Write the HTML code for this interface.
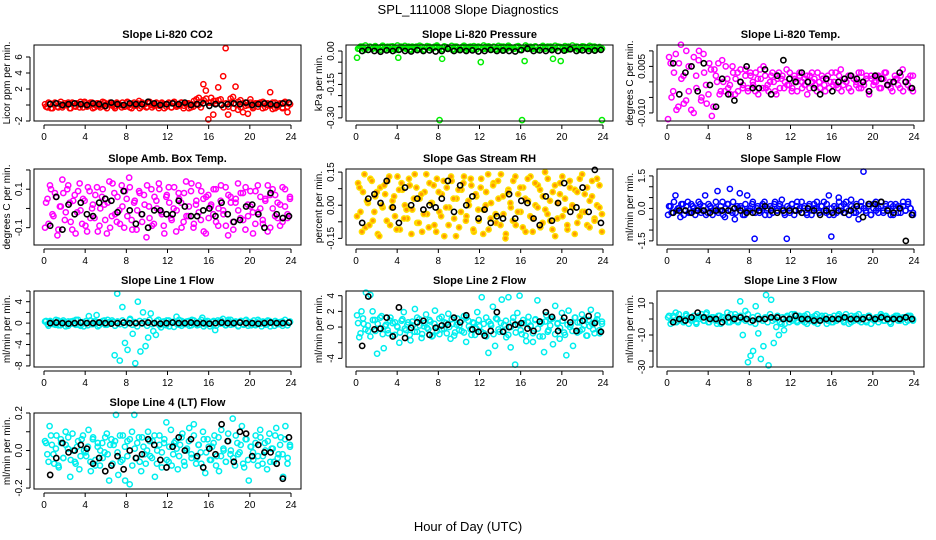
<!DOCTYPE html>
<html><head><meta charset="utf-8"><style>
html,body{margin:0;padding:0;background:#fff;}
svg{display:block;font-family:"Liberation Sans",sans-serif;}
</style></head><body>
<svg id="chart" width="936" height="540" viewBox="0 0 936 540">
<text x="468" y="14" text-anchor="middle" font-size="13">SPL_111008  Slope Diagnostics</text>
<text x="468" y="531" text-anchor="middle" font-size="13">Hour of Day (UTC)</text>
</svg>
<script>
const hourTicks = [0,4,8,12,16,20,24];
const co2Red = [0.1,-0.3,0.2,-0.4,0.3,-0.2,0.1,-0.3,0.2,0.0,-0.4,0.3,-0.1,0.2,-0.3,0.1,0.4,-0.2,0.0,0.3,-0.3,0.2,-0.1,0.1,0.3,-0.4,0.2,0.0,-0.2,0.3,0.1,-0.3,-0.2,0.2,0.0,-0.4,0.3,-0.1,0.5,-0.2,0.1,-0.3,0.2,0.0,-0.1,0.3,-0.4,0.2,0.1,-0.2,0.3,-0.3,0.2,0.0,-0.1,0.3,-0.4,0.1,0.2,-0.3,-0.2,0.1,0.0,-0.3,2.6,1.8,-1.8,0.3,-1.2,0.5,2.2,0.7,3.6,7.1,-1.2,0.8,1.0,2.3,-0.6,0.6,-0.9,0.3,-1.1,0.7,-0.2,0.1,0.2,0.3,-0.4,0.2,0.0,1.6,-0.5,0.3,-0.2,0.1,-0.4,0.2,-0.9,0.1];
const co2Band = [-0.2,0.3,-0.4,0.1,0.2,-0.3,0.4,-0.1,0.0,0.3,-0.4,0.2,-0.2,0.1,0.4,-0.3,0.2,-0.1,0.3,-0.4,0.0,0.2,-0.3,0.4,-0.2,0.1,0.3,-0.1,-0.4,0.2,0.0,0.3,-0.2,0.4,-0.3,0.1,-0.1,0.2,-0.4,0.3,0.1,-0.2,0.4,-0.3,0.0,0.2,-0.1,0.3,-0.4,0.1,0.2,-0.3,0.4,-0.2,0.0,0.3,-0.1,0.2,-0.4,0.1,0.5,0.7,0.9,0.4,0.6,0.8,0.3,0.9,0.5,0.2,0.6,0.1,-0.3,0.2,-0.2,0.3,-0.4,0.1,0.4,-0.3,0.2,-0.1,0.0,0.3,-0.4,0.2,-0.2,0.1,0.4,-0.3,0.2,-0.1,0.3,-0.4,0.0,0.2,-0.3,0.4,-0.2,0.1];
const co2Blk = [0.1,0.2,0.0,0.1,0.2,0.1,0.0,0.2,0.1,-0.1,0.3,0.1,0.0,0.2,0.1,0.1,0.4,0.2,0.0,0.1,0.2,0.1,0.3,0.0,0.1,0.2,-0.1,0.1,0.0,0.1,0.2,0.1,0.3,0.0,0.1,0.2,0.1,0.0,0.2,0.3];
const pressGrn = [-0.03,0.01,0.02,0.005,0.015,0.02,0.01,0.02,0.015,0.005,0.02,0.01,0.015,0.02,0.01,0.005,-0.03,0.02,0.015,0.01,0.02,0.005,0.015,0.02,0.01,0.02,0.005,0.015,0.02,0.01,0.015,0.02,-0.31,-0.035,0.02,0.01,0.015,0.005,0.02,0.015,0.01,0.02,0.005,0.015,0.02,0.01,0.015,0.02,-0.05,0.01,0.02,0.015,0.005,0.02,0.01,0.015,0.02,0.005,0.01,0.02,0.015,0.01,0.02,0.005,-0.31,-0.045,0.02,0.01,0.015,0.02,0.005,0.015,0.02,0.01,0.015,0.02,-0.035,0.01,0.02,-0.045,0.015,0.005,0.02,0.01,0.015,0.02,0.005,0.01,0.02,0.015,0.01,0.02,0.005,0.015,0.01,-0.31];
const pressBand = [10,20,15,25,5,18,12,22,8,16,24,11,19,6,21,14,25,9,17,23,13,7,20,16,11,24,18,6,22,15,10,19,25,12,8,21,17,14,23,9,20,5,16,24,13,18,11,22,7,19,15,25,10,21,12,17,6,23,14,20,9,24,16,11,18,22,8,15,25,13,19,10,21,6,17,23,12,20,14,9,24,16,18,11,22,7,15,25,13,19,10,21,17,12,23,8,20,14,18,11];
const pressBlk = [0.0,0.005,0.0,-0.003,0.003,0.0,0.005,0.0,-0.002,0.004,0.0,0.003,-0.002,0.0,0.01,0.0,0.004,0.0,0.003,-0.002,0.0,0.005,0.0,0.002,0.0,-0.002,0.004,0.01,0.0,0.003,0.0,0.004,0.0,0.002,0.008,0.0,0.003,0.0,0.002,0.005];
const tempMag = [-12,6,-3,9,-8,12,2,-6,5,-9,8,-2,10,-5,3,-7,6,-11,4,0,-4,7,-3,1,-1,5,-4,3,0,-2,4,-3,2,-1,3,-4,1,5,-2,-3,2,0,-4,3,1,-2,4,-1,-3,2,0,3,-2,1,-4,2,0,-1,3,-2,1,-3,2,0,-1,3,-2,4,-1,0,2,-3,1,0,-2,3,-1,2,-4,1,0,2,-2,1,3,-1,0,-3,2,1,-2,4,0,-1,2,-3];
const tempBand = [8,-5,3,-9,6,1,-7,10,-3,5,-10,2,7,-6,9,-1,-4,4,-8,2,6,-3,0,5,-2,-4,3,1,-3,4,-1,2,-2,3,0,-3,1,4,-2,2,-1,0,3,-3,1,-2,2,0,-1,3,-2,1,-3,2,0,-1,2,-2,3,1,-3,0,2,-1,1,-2,3,0,-1,2,-3,1,0,-2,2,1,-1,3,-2,0,1,-3,2,-1,0,2,-2,1,3,-1,-2,0,1,-1,2,-3,0,1,-2,2];
const tempBlk = [6,-4,3,5,-3,6,-1,-8,1,-4,-6,0,5,-2,-2,4,-4,2,7,1,0,3,0,-2,-4,1,-3,0,1,2,1,0,-3,2,1,-1,0,3,0,-2];
const ambMag = [-10,5,12,-3,8,-14,1,15,-6,10,3,-11,7,-2,13,-8,4,-12,9,0,-5,11,-9,6,2,-13,14,-4,8,-7,-1,12,-10,5,16,-6,3,-11,9,-3,7,-15,1,10,-8,4,13,-2,-9,6,11,-5,0,-12,8,3,-7,14,-4,9,-10,2,12,-6,5,-13,7,1,-3,10,-9,4,-1,11,-14,6,-7,3,13,-5,8,-11,2,9,-2,-8,12,0,-6,5,-12,7,10,-4,3,-9,11,1,-5,6];
const ambBand = [3,-8,10,-4,6,-11,1,8,-2,12,-7,4,-13,9,-1,5,-9,11,-5,2,7,-12,0,10,-6,3,-10,13,-3,6,-8,1,9,-4,11,-11,4,-1,8,-7,2,12,-5,-9,6,0,10,-3,-13,7,3,-6,11,-1,5,-10,8,-4,1,13,-8,4,-2,9,-12,6,-5,2,10,-7,0,12,-3,-9,7,3,-11,5,-1,8,-6,11,-4,1,-13,9,-2,6,-8,4,12,-10,0,7,-5,2,-7,10,-3,5];
const ambBlk = [-9,6,-11,2,-3,3,-3,-4,3,5,4,-2,9,-1,-8,-3,-10,-1,-1,-3,-3,4,1,-4,-4,-1,0,-4,3,-3,-7,-6,1,2,-3,-10,8,-3,-5,-4];
const rhOra = [-5,8,-12,14,2,-9,11,-3,6,-14,0,9,-7,13,-1,4,-11,7,10,-6,-2,12,-13,3,8,-8,5,-4,14,-10,1,9,-12,6,-5,11,-1,-9,13,3,-14,7,-3,10,-7,2,12,-11,5,-2,8,-13,0,14,-6,9,-4,11,-9,4,-15,6,1,-7,13,-3,8,-10,3,12,-5,-12,10,-1,7,-8,15,-4,2,-11,9,-6,5,13,-2,-9,11,0,-13,6,-5,14,-3,8,-10,4,-7,12,-1,-12];
const rhBand = [10,-3,6,-10,1,12,-7,4,-13,8,-1,5,11,-9,2,-5,13,-11,7,0,-6,9,-2,14,-8,3,-12,6,-4,10,1,-9,12,-3,5,-14,8,-1,11,-6,3,-10,7,13,-5,0,9,-12,4,-7,12,-2,6,-11,1,10,-8,3,14,-4,-13,7,-1,11,-9,5,-3,8,-12,2,13,-6,0,9,-10,4,-2,12,-7,6,-14,1,10,-5,3,-11,8,-1,7,-8,12,-3,5,-9,2,11,-6,0,9,-4];
const rhBlk = [-8,3,5,1,11,-1,-8,8,0,3,-2,0,-1,3,11,-3,9,0,4,-6,-2,-8,-5,-6,5,-6,2,1,-6,-9,4,-7,1,10,-3,-1,8,-3,16,-8];
const sfBlu = [-3,1,-2,6,0,-4,2,-1,3,-2,1,-3,0,2,-1,6,-2,1,-3,0,8,-1,3,-4,2,9,-2,-5,1,7,0,-3,6,-1,2,-14,0,-2,1,3,-1,-3,0,2,-1,1,4,-2,-14,0,2,-3,1,-1,3,0,-2,1,-3,2,0,-1,1,3,-2,6,-13,-3,0,5,1,-2,3,-1,4,0,-2,-5,1,17,-1,2,-3,0,3,-2,1,-1,2,0,-3,1,2,-2,0,1,-1,3,0,-2];
const sfBand = [1,-2,3,-1,0,2,-3,1,-2,2,0,-1,3,-2,1,-3,2,0,-1,3,-2,1,-3,0,2,-1,3,-2,0,1,-3,2,-1,0,3,-2,1,-1,2,-3,0,1,-2,3,-1,2,0,-3,1,-2,2,-1,3,0,-2,1,-3,2,-1,0,3,-2,1,-1,2,-3,0,1,-2,3,-1,2,0,-3,1,-2,2,-1,3,0,-2,1,-3,2,-1,0,3,-2,1,-1,2,-3,0,1,-2,3,-1,2,0,-3];
const sfBlk = [-2,-1,-1,-2,-1,-1,-2,-1,-1,-1,0,-1,-2,-2,-1,1,-1,-2,-1,-1,-1,-2,0,-1,-3,-1,-2,-1,-2,-1,1,-4,2,2,3,-1,-2,0,-15,-3];
const l1Cyan = [0.3,-0.2,0.4,0,-0.3,0.5,-0.4,0.2,0,-0.5,0.3,-0.1,0.6,-0.3,0.1,-0.6,0.4,1.3,-0.2,0.3,1.5,-0.4,0.1,0.5,-0.3,0.2,0.5,-6,5.5,-7,3,-3.7,-5,0.8,-2,-7.5,4,-5.3,2,-4.3,-2.7,1.8,-1.5,-2.2,0.6,-0.8,0.3,-0.4,0.5,0.2,-0.7,1.2,-0.3,0.4,-0.2,0.3,-0.5,0.6,0,-0.4,0.3,1,-0.2,0.4,-0.6,0.2,-1.3,0.5,-0.1,0.8,-0.4,0.3,0.6,-0.2,0.1,-0.5,0.4,-0.3,0.6,0.2,-0.4,0.5,-0.1,0.3,-0.6,0.2,-0.3,0.4,0.1,-0.5,0.2,-0.2,0.3,0,-0.4,0.2];
const l1Band = [0.4,-0.5,0.2,-0.2,0.6,-0.4,0.1,0.5,-0.6,0.3,-0.1,0.4,-0.3,0.6,-0.5,0.2,0,-0.4,0.5,-0.2,0.3,-0.6,0.1,0.4,-0.3,0.6,-0.1,0.2,-0.5,0.3,-0.2,0.5,-0.4,0.1,0.6,-0.3,0.2,-0.6,0.4,-0.1,0.3,-0.5,0.6,-0.2,0,0.4,-0.4,0.2,-0.3,0.5,-0.6,0.1,0.3,-0.1,0.6,-0.5,0.2,-0.2,0.4,-0.4,0.5,0,-0.3,0.6,-0.6,0.1,0.3,-0.2,0.4,-0.5,0.2,0.5,-0.1,-0.4,0.6,-0.3,0.1,0.3,-0.6,0.4,-0.2,0.5,-0.5,0.2,0,-0.4,0.6,-0.1,0.3,-0.3,0.5,-0.6,0.1,0.4,-0.2,0.2,-0.5,0.6,-0.4,0.3];
const l1Blk = [0,0.1,0,-0.1,0,0.1,0,0,0.1,0,-0.1,0,0.1,0,0,0,0.1,0,-0.1,0,0.1,0,0,0.1,0,0,-0.1,0,0.1,0,0,0.1,0,0,-0.1,0,0.1,0,0,0.1];
const l2Cyan = [1.5,-1.3,2,0.4,4.4,-0.5,4.1,2,0.9,-3.4,-0.2,1.4,-2.7,0.3,-0.8,1.2,0.5,-1,0.1,-2,0.8,1.9,-0.4,0.6,-1.7,0.2,2.3,-0.6,1,-1.4,0.1,1.6,-0.3,0.7,-1.1,2.1,0,-0.9,1.3,-0.2,0.5,1.7,-1.5,0.4,-0.7,1.1,0.2,-0.5,1.4,-1.9,0.8,-0.3,0.6,-1,1.9,0.1,3.8,-0.8,1.2,-3.3,0.4,2.6,-2.4,1,-0.6,3.5,0.3,-1.3,3.8,-2.6,0.7,-4.8,1.8,4,-0.9,0.5,-1.8,1.3,0.2,-1.9,0.9,3.4,-1.2,0.6,-3.2,1.5,-0.4,1,-2.2,2.7,0.4,-1.5,1.8,-0.7,-3.6,2.1,0.3,-2.4,1.2,0.6,-0.5,1.6,0.2,-1.1,0.9,2.2,-0.3,0.7,1.5,-0.8,0.4];
const l2Band = [0.5,-0.8,1.1,-0.3,0.2,-1.2,0.9,-0.5,0.4,1.2,-0.9,0.1,-0.4,0.8,-1.1,0.6,0,-0.7,1,-0.2,0.3,-1,0.7,-0.6,1.2,0.2,-0.9,0.5,-0.1,0.9,-1.2,0.4,-0.5,1.1,-0.3,0.6,-0.8,0,1,-1.1,0.3,-0.4,0.8,-0.7,1.2,0.1,-1,0.5,-0.2,0.9,-0.6,0.4,-1.2,0.7,0.2,-0.9,1.1,-0.3,0.5,-0.5,0.8,-1,0,1.2,-0.7,0.3,-0.4,0.9,-1.1,0.6,0.1,-0.8,1,-0.2,0.4,-1.2,0.7,-0.6,0.2,1.1,-0.9,0.5,-0.1,0.8,-1,0.3,0,-0.5,1.2,-0.7,0.6,-0.3,0.9,-1.1,0.1,0.4,-0.8,1,-0.4,0.7];
const l2Blk = [-2.4,3.9,-0.3,-0.2,1.2,-1.2,2.5,-1.4,-0.1,0.6,0.8,-1,-0.1,0.2,0.3,1.2,0.6,1.5,-0.3,-0.6,-1.1,-0.5,1.9,-0.6,0,0.3,0.5,-0.2,-0.5,0.7,1.9,1.3,-0.5,1.2,0.6,-0.5,0.8,1.4,0.5,-0.6];
const l3Cyan = [1,-3,2,4,-1,0,-2,3,1,-1,2,-3,0,3,-1,4,-2,1,0,-3,2,1,-1,4,-2,0,3,-1,11,-10,5,-27,-23,-20,8,-9,-25,-17,15,-29,12,-15,-5,-10,-3,-7,1,-2,3,0,-1,2,1,-2,3,-1,0,2,-3,1,0,2,-1,1,-2,0,2,1,-1,3,0,-2,1,2,-1,0,1,-2,2,0,-1,1,0,2,-1,1,-2,0,1,2,-1,0,1,-1,2,0];
const l3Band = [2,-1,1,-2,3,0,-1,2,-3,1,0,-2,2,1,-1,3,-2,0,1,-1,2,-3,1,0,-2,3,-1,1,-2,2,0,-1,3,-2,1,-3,2,0,-1,1,-2,3,-1,0,2,-2,1,-3,2,0,-1,3,-2,1,-1,2,-3,0,1,-2,3,-1,2,0,-3,1,-2,2,-1,3,0,-2,1,-3,2,-1,0,3,-2,1,-1,2,-3,0,1,-2,3,-1,2,0,-3,1,2,-1,0,1,-2,2,1,-1];
const l3Blk = [-2,0,-1,1,4,1,0,0,-2,1,0,1,0,-1,0,0,1,1,0,0,2,0,0,-1,-1,0,0,0,1,0,0,0,1,0,1,0,0,0,1,0];
const l4Cyan = [5,-2,13,3,-7,8,-9,4,-4,10,1,-14,9,-6,2,-10,6,0,-3,11,-11,7,-5,2,-8,4,-1,9,-16,6,3,19,-13,-6,8,-16,5,-18,10,19,-4,7,-11,2,-7,10,-3,5,-14,0,8,-9,4,15,-6,11,-2,5,-10,3,9,-8,1,12,-4,14,-7,3,-1,10,-12,6,-5,2,8,-3,-11,11,0,-6,9,-2,17,-8,4,-1,13,-9,6,-16,2,-5,8,-3,11,-7,4,-10,9,1,-6,12,-2,7,-14,13,-4,3];
const l4Band = [4,-6,8,-2,1,-8,6,-4,3,7,-5,0,-7,5,-3,8,-1,2,-6,6,-8,4,0,-4,7,-2,3,-7,5,-1,8,-5,2,-3,6,-8,1,4,-6,7,-2,0,5,-4,8,-7,3,-1,6,-5,2,-8,4,1,-3,7,-6,0,5,-2,8,-4,3,-7,6,-1,2,-5,4,-8,7,-3,1,-6,5,0,-4,8,-2,3,-7,6,-5,2,-1,4,-8,7,-3,0,5,-6,1,8,-4,3,-2,6,-7,2];
const l4Blk = [-13,-4,4,-1,0,3,1,-7,-4,-11,-8,-3,-10,0,-4,-2,6,3,-5,-9,2,7,0,6,-3,-9,1,-2,14,5,-6,10,9,-3,3,-1,-1,-7,-15,7];

const NS = "http://www.w3.org/2000/svg";
const svg = document.getElementById('chart');
function mk(tag, attrs, parent){ const e=document.createElementNS(NS,tag); for(const k in attrs) e.setAttribute(k,attrs[k]); (parent||svg).appendChild(e); return e; }

const colsX = [34,346,657], rowsY = [45,169,291,413], W = 267, H = 76;
const panels = [
 {key:'co2',title:'Slope Li-820 CO2',ylab:'Licor ppm per min.',c:0,r:0,ymin:-2.0,ymax:7.5,ticks:[-2,0,2,4,6],labels:['-2','','2','4','6'],main:co2Red,band:co2Band,bandScale:1,blk:co2Blk,scale:1,col:'#ff0000',fill:'none'},
 {key:'pressure',title:'Slope Li-820 Pressure',ylab:'kPa per min.',c:1,r:0,ymin:-0.314,ymax:0.027,ticks:[0,-0.05,-0.1,-0.15,-0.2,-0.25,-0.3],labels:['0.00','','','-0.15','','','-0.30'],main:pressGrn,band:pressBand,bandScale:0.001,blk:pressBlk,scale:1,col:'#00ee00',fill:'none'},
 {key:'temp',title:'Slope Li-820 Temp.',ylab:'degrees C per min.',c:2,r:0,ymin:-0.0126,ymax:0.0119,ticks:[0.01,0.005,0,-0.005,-0.01],labels:['','0.005','','','-0.010'],main:tempMag,band:tempBand,bandScale:0.001,blk:tempBlk,scale:0.001,col:'#ff00ff',fill:'none'},
 {key:'amb',title:'Slope Amb. Box Temp.',ylab:'degrees C per min.',c:0,r:1,ymin:-0.19,ymax:0.205,ticks:[0.2,0.1,0,-0.1],labels:['','0.1','','-0.1'],main:ambMag,band:ambBand,bandScale:0.01,blk:ambBlk,scale:0.01,col:'#ff00ff',fill:'none'},
 {key:'rh',title:'Slope Gas Stream RH',ylab:'percent per min.',c:1,r:1,ymin:-0.18,ymax:0.164,ticks:[0.15,0.075,0,-0.075,-0.15],labels:['0.15','','0.00','','-0.15'],main:rhOra,band:rhBand,bandScale:0.01,blk:rhBlk,scale:0.01,col:'#ffe000',fill:'#ff9a00'},
 {key:'sample',title:'Slope Sample Flow',ylab:'ml/min per min.',c:2,r:1,ymin:-1.69,ymax:1.82,ticks:[1.5,1,0.5,0,-0.5,-1,-1.5],labels:['1.5','','','0.0','','','-1.5'],main:sfBlu,band:sfBand,bandScale:0.1,blk:sfBlk,scale:0.1,col:'#0000ff',fill:'none'},
 {key:'line1',title:'Slope Line 1 Flow',ylab:'ml/min per min.',c:0,r:2,ymin:-8.2,ymax:6,ticks:[6,4,2,0,-2,-4,-6,-8],labels:['','4','','0','','-4','','-8'],main:l1Cyan,band:l1Band,bandScale:1,blk:l1Blk,scale:1,col:'#00eeee',fill:'none'},
 {key:'line2',title:'Slope Line 2 Flow',ylab:'ml/min per min.',c:1,r:2,ymin:-5.1,ymax:4.6,ticks:[4,2,0,-2,-4],labels:['4','2','0','','-4'],main:l2Cyan,band:l2Band,bandScale:1,blk:l2Blk,scale:1,col:'#00eeee',fill:'none'},
 {key:'line3',title:'Slope Line 3 Flow',ylab:'ml/min per min.',c:2,r:2,ymin:-30,ymax:17.5,ticks:[10,0,-10,-20,-30],labels:['10','','-10','','-30'],main:l3Cyan,band:l3Band,bandScale:1,blk:l3Blk,scale:1,col:'#00eeee',fill:'none'},
 {key:'line4',title:'Slope Line 4 (LT) Flow',ylab:'ml/min per min.',c:0,r:3,ymin:-0.205,ymax:0.2,ticks:[0.2,0.1,0,-0.1,-0.2],labels:['0.2','','0.0','','-0.2'],main:l4Cyan,band:l4Band,bandScale:0.01,blk:l4Blk,scale:0.01,col:'#00eeee',fill:'none'}
];

panels.forEach(p=>{
  const L = colsX[p.c], T = rowsY[p.r];
  const xs = h => L + 10 + h*(W-20)/24;
  const ys = v => T + H - (v - p.ymin)/(p.ymax - p.ymin)*H;
  const g = mk('g',{});
  
  
  const t = mk('text',{x:L+W/2,y:T-7,'text-anchor':'middle','font-size':'11','font-weight':'bold'},g);
  t.textContent = p.title;
  
  
  const bd = mk('g',{},g);
  
  
  const nb = p.band.length;
  p.band.forEach((v,i)=>{
    const c = mk('circle',{cx:xs(0.2 + i*23.7/(nb-1)),cy:ys(v*p.bandScale),r:2.6,fill:p.fill,stroke:p.col,'stroke-width':1.5},bd);
    
    
  });
  const pts = mk('g',{},g);
  
  
  const n = p.main.length;
  p.main.forEach((v,i)=>{
    const c = mk('circle',{cx:xs(0.1 + i*23.8/(n-1)),cy:ys(v*p.scale),r:2.6,fill:p.fill,stroke:p.col,'stroke-width':1.5},pts);
    
    
  });
  const bp = mk('g',{},g);
  
  
  const m = p.blk.length;
  p.blk.forEach((v,i)=>{
    const c = mk('circle',{cx:xs(0.6 + i*23.2/(m-1)),cy:ys(v*p.scale),r:2.6,fill:'none',stroke:'#000','stroke-width':1.6},bp);
    
    
  });
  const box = mk('rect',{x:L,y:T,width:W,height:H,fill:'none',stroke:'#000','stroke-width':1},g);
  
  
  const xa = mk('g',{},g);
  
  
  mk('line',{x1:xs(0),x2:xs(24),y1:T+H+4,y2:T+H+4,stroke:'#000'},xa);
  hourTicks.forEach(h=>{
    mk('line',{x1:xs(h),x2:xs(h),y1:T+H+4,y2:T+H+8,stroke:'#000'},xa);
    const tl = mk('text',{x:xs(h),y:T+H+19,'text-anchor':'middle','font-size':'10'},xa);
    tl.textContent = h;
    
    
  });
  const ya = mk('g',{},g);
  
  
  const ty = p.ticks.map(ys);
  mk('line',{x1:L-4,x2:L-4,y1:Math.min(...ty),y2:Math.max(...ty),stroke:'#000'},ya);
  p.ticks.forEach((v,i)=>{
    const y = ys(v);
    mk('line',{x1:L-8,x2:L-4,y1:y,y2:y,stroke:'#000'},ya);
    if(p.labels[i]){
      const tl = mk('text',{x:0,y:0,transform:`translate(${L-12},${y}) rotate(-90)`,'text-anchor':'middle','font-size':'10'},ya);
      tl.textContent = p.labels[i];
      
      
    }
  });
  const yl = mk('text',{x:0,y:0,transform:`translate(${L-24},${T+H/2}) rotate(-90)`,'text-anchor':'middle','font-size':'10'},ya);
  yl.textContent = p.ylab;
  
  
});
</script>
</body></html>
